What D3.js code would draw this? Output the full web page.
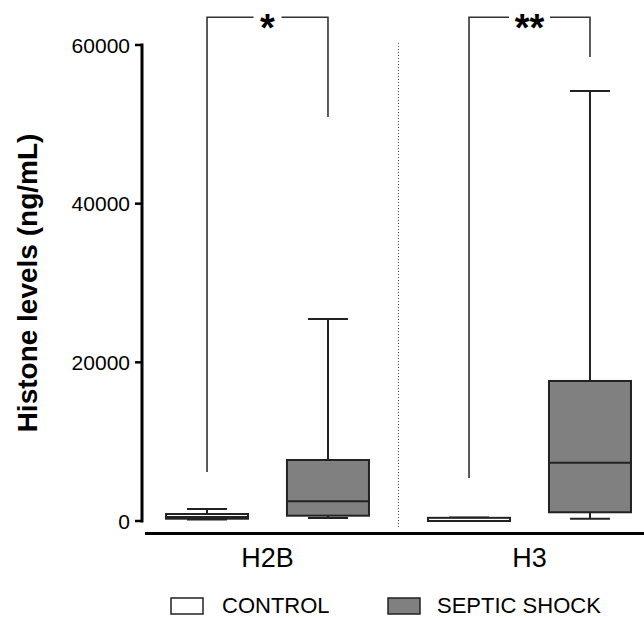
<!DOCTYPE html>
<html>
<head>
<meta charset="utf-8">
<script src="https://cdn.jsdelivr.net/npm/d3@7"></script>
<style>
  body { margin: 0; background: #fff; }
  text { font-family: "Liberation Sans", Arial, Helvetica, sans-serif; fill: #000; }
</style>
</head>
<body>
<svg id="chart" width="644" height="618"></svg>
<script>
// Data ///////////////////////////////////////////////////////////////////////
var categories = ['H2B', 'H3'];
var series = ['CONTROL', 'SEPTIC SHOCK'];
var seriesFill = ['#ffffff', '#808080'];
var yTicks = [0, 20000, 40000, 60000];

// box statistics, one value per category
var controlMin    = [190, 0],      controlQ1 = [290, 0],
    controlMedian = [500, 0],      controlQ3 = [880, 400],
    controlMax    = [1510, 450];
var septicMin     = [380, 290],    septicQ1  = [670, 1100],
    septicMedian  = [2480, 7350],  septicQ3  = [7690, 17650],
    septicMax     = [25460, 54200];

// significance brackets, one per category
var sigLabels     = ['*', '**'];
var bracketTop    = 63500;
var bracketLeft   = [6180, 5420];      // lower end of the control leg
var bracketRight  = [50930, 58490];    // lower end of the septic leg

// Build ///////////////////////////////////////////////////////////////////////
var svg = d3.select('#chart');

var y = d3.scaleLinear().domain([0, 60000]).range([521, 45]);
var x0 = d3.scaleBand().domain(categories).range([136.5, 660.5]);
var x1 = d3.scalePoint().domain(series).range([0, x0.bandwidth()]).padding(0.583);
var boxW = 82, capW = 40;

var stats = [
  {min: controlMin, q1: controlQ1, med: controlMedian, q3: controlQ3, max: controlMax},
  {min: septicMin,  q1: septicQ1,  med: septicMedian,  q3: septicQ3,  max: septicMax}
];
var boxes = [];
categories.forEach(function(c, ci) {
  series.forEach(function(s, si) {
    var st = stats[si];
    boxes.push({cat: c, ser: s, si: si, min: st.min[ci], q1: st.q1[ci], med: st.med[ci], q3: st.q3[ci], max: st.max[ci]});
  });
});
function cx(d) { return x0(d.cat) + x1(d.ser); }

// separator between groups
svg.append('line')
  .attr('x1', x0('H3')).attr('x2', x0('H3'))
  .attr('y1', 43).attr('y2', 529)
  .attr('stroke', '#555').attr('stroke-width', 1).attr('stroke-dasharray', '1,2');

// y axis
var yAxis = svg.append('g');
yAxis.append('line').attr('x1', 142).attr('x2', 142).attr('y1', y(60000) - 1.5).attr('y2', y(0) + 1.5)
  .attr('stroke', '#000').attr('stroke-width', 3);
yAxis.selectAll('.tick').data(yTicks).enter().append('line')
  .attr('x1', 135).attr('x2', 142).attr('y1', y).attr('y2', y)
  .attr('stroke', '#000').attr('stroke-width', 2.5);
yAxis.selectAll('.lbl').data(yTicks).enter().append('text')
  .attr('x', 130).attr('y', function(d) { return y(d); }).attr('dy', '0.36em')
  .attr('text-anchor', 'end').style('font-size', '21px').text(function(d) { return d; });

svg.append('text')
  .attr('transform', 'translate(37,' + 283 + ') rotate(-90)')
  .attr('text-anchor', 'middle').style('font-size', '28px').style('font-weight', 'bold')
  .text('Histone levels (ng/mL)');

// x axis baseline
svg.append('line').attr('x1', 145).attr('x2', 644).attr('y1', 533.5).attr('y2', 533.5)
  .attr('stroke', '#000').attr('stroke-width', 3);
svg.selectAll('.cat').data(categories).enter().append('text')
  .attr('x', function(d) { return x0(d) + x0.bandwidth() / 2; }).attr('y', 567)
  .attr('text-anchor', 'middle').style('font-size', '27px').text(function(d) { return d; });

// boxes
var g = svg.selectAll('.box').data(boxes).enter().append('g');
g.append('line').attr('x1', cx).attr('x2', cx)
  .attr('y1', function(d) { return y(d.max); }).attr('y2', function(d) { return y(d.q3); })
  .attr('stroke', '#222').attr('stroke-width', 2);
g.append('line').attr('x1', cx).attr('x2', cx)
  .attr('y1', function(d) { return y(d.q1); }).attr('y2', function(d) { return y(d.min); })
  .attr('stroke', '#222').attr('stroke-width', 2);
g.append('line').attr('x1', function(d) { return cx(d) - capW / 2; }).attr('x2', function(d) { return cx(d) + capW / 2; })
  .attr('y1', function(d) { return y(d.max); }).attr('y2', function(d) { return y(d.max); })
  .attr('stroke', '#222').attr('stroke-width', 2);
g.append('line').attr('x1', function(d) { return cx(d) - capW / 2; }).attr('x2', function(d) { return cx(d) + capW / 2; })
  .attr('y1', function(d) { return y(d.min); }).attr('y2', function(d) { return y(d.min); })
  .attr('stroke', '#222').attr('stroke-width', 2);
g.append('rect')
  .attr('x', function(d) { return cx(d) - boxW / 2; }).attr('width', boxW)
  .attr('y', function(d) { return y(d.q3); })
  .attr('height', function(d) { return y(d.q1) - y(d.q3); })
  .attr('fill', function(d) { return seriesFill[d.si]; })
  .attr('stroke', '#222').attr('stroke-width', 2);
g.append('line').attr('x1', function(d) { return cx(d) - boxW / 2; }).attr('x2', function(d) { return cx(d) + boxW / 2; })
  .attr('y1', function(d) { return y(d.med); }).attr('y2', function(d) { return y(d.med); })
  .attr('stroke', '#222').attr('stroke-width', 2);

// significance brackets
var gaps = [28, 41];
categories.forEach(function(c, ci) {
  var xl = x0(c) + x1(series[0]), xr = x0(c) + x1(series[1]), xm = (xl + xr) / 2;
  var yt = y(bracketTop);
  var br = svg.append('g').attr('stroke', '#333').attr('stroke-width', 1.6).attr('fill', 'none');
  br.append('path').attr('d', 'M' + xl + ',' + y(bracketLeft[ci]) + 'V' + yt + 'H' + (xm - gaps[ci] / 2));
  br.append('path').attr('d', 'M' + (xm + gaps[ci] / 2) + ',' + yt + 'H' + xr + 'V' + y(bracketRight[ci]));
  svg.append('text').attr('x', xm).attr('y', 41).attr('text-anchor', 'middle')
    .style('font-size', '38px').style('font-weight', 'bold').text(sigLabels[ci]);
});

// legend
var legX = [171, 388];
var leg = svg.selectAll('.leg').data(series).enter().append('g')
  .attr('transform', function(d, i) { return 'translate(' + legX[i] + ',598)'; });
leg.append('rect').attr('width', 32).attr('height', 16)
  .attr('fill', function(d, i) { return seriesFill[i]; })
  .attr('stroke', '#222').attr('stroke-width', 1.5);
leg.append('text').attr('x', function(d, i) { return i === 0 ? 51 : 49; }).attr('y', 15)
  .style('font-size', '22px').text(function(d) { return d; });
</script>
</body>
</html>
